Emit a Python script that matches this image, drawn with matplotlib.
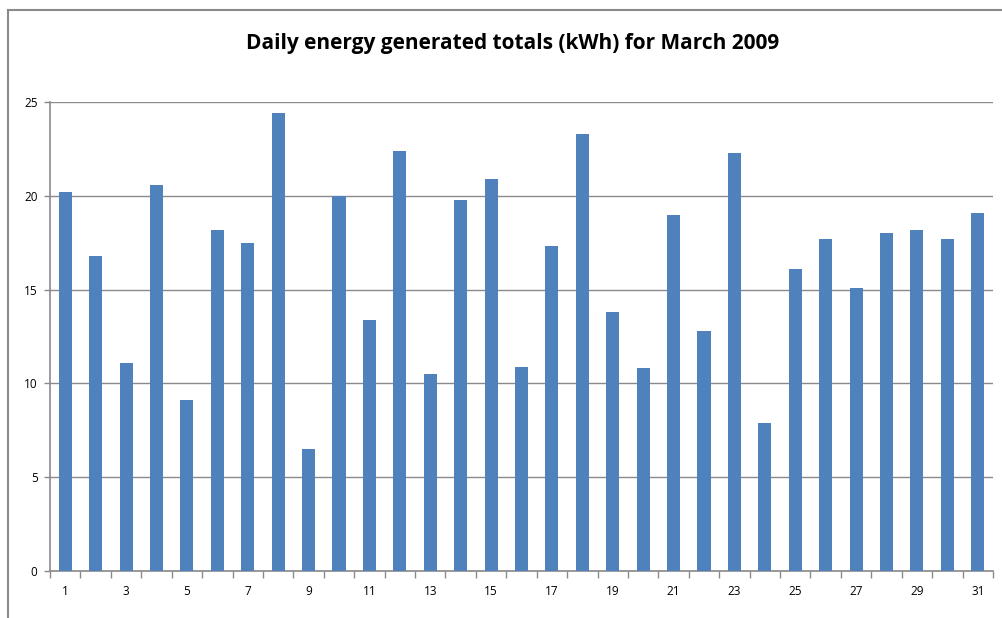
import numpy as np
import matplotlib
matplotlib.use('Agg')
import matplotlib.pyplot as plt
from matplotlib.lines import Line2D

# daily totals, March 2009
days = list(range(1, 32))
kwh = [20.2, 16.8, 11.1, 20.6, 9.1, 18.2, 17.5, 24.4, 6.5, 20.0,
       13.4, 22.4, 10.5, 19.8, 20.9, 10.9, 17.3, 23.3, 13.8, 10.8,
       19.0, 12.8, 22.3, 7.9, 16.1, 17.7, 15.1, 18.0, 18.2, 17.7, 19.1]
yticks = [0, 5, 10, 15, 20, 25]
title = 'Daily energy generated totals (kWh) for March 2009'

plt.rcParams['font.family'] = ['Open Sans', 'DejaVu Sans']
grey = '#8a8a8a'
barColor = '#4f81bd'

fig = plt.figure(figsize=(10.03, 6.18), dpi=100)
ax = fig.add_axes([50/1003, 47/618, 943/1003, 469/618])

x = np.arange(len(days))
ax.bar(x, kwh, width=0.43, color=barColor, zorder=3)

ax.set_xlim(-0.5, len(days) - 0.5)
ax.set_ylim(0, 25)
ax.set_yticks(yticks)
ax.yaxis.grid(True, color=grey, linewidth=1, zorder=0)

# category labels on odd days only, tick marks between categories
ax.set_xticks(x[::2])
ax.set_xticklabels([str(d) for d in days[::2]], fontsize=8.5)
ax.set_xticks(np.arange(-0.5, len(days)), minor=True)
ax.tick_params(axis='x', which='major', length=0, pad=10)
ax.tick_params(axis='x', which='minor', length=5, color=grey, width=1)
ax.tick_params(axis='y', length=4, color=grey, width=1, labelsize=8.5, pad=5)

for s in ['top', 'right']:
    ax.spines[s].set_visible(False)
for s in ['left', 'bottom']:
    ax.spines[s].set_color(grey)
    ax.spines[s].set_linewidth(1.2)

fig.text(513/1003, 1 - 43/618, title, ha='center', va='center',
         fontsize=15, fontweight='bold')

# outer chart frame (cut off at right and bottom in the original)
fig.add_artist(Line2D([8/1003, 8/1003], [0, 1 - 10/618], color=grey, lw=1.5))
fig.add_artist(Line2D([8/1003, 1], [1 - 10/618, 1 - 10/618], color=grey, lw=1.5))

fig.savefig('out.png', dpi=100)
